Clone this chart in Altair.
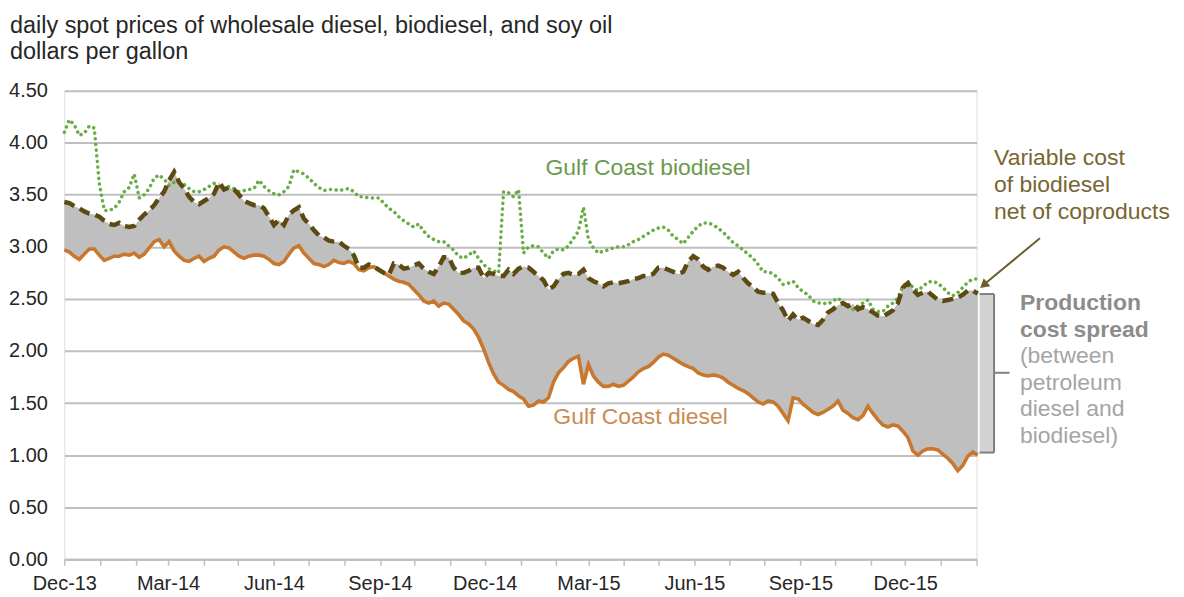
import altair as alt
import pandas as pd

# ---------------- data ----------------
start_date = "2013-12-01"
step = "104h"  # sampling step of the read-off series

diesel = [
    2.97, 2.95, 2.91, 2.88, 2.93, 2.98, 2.98, 2.92, 2.87, 2.89, 2.91, 2.91, 2.93, 2.92, 2.94, 2.90,
    2.93, 2.99, 3.05, 3.07, 3.00, 3.05, 2.96, 2.91, 2.87, 2.86, 2.89, 2.91, 2.86, 2.89, 2.91, 2.97,
    3.00, 2.99, 2.95, 2.91, 2.89, 2.91, 2.92, 2.92, 2.91, 2.88, 2.84, 2.83, 2.86, 2.93, 2.99,
    3.01, 2.94, 2.89, 2.84, 2.83, 2.81, 2.83, 2.87, 2.85, 2.84, 2.86, 2.84, 2.78, 2.77, 2.80, 2.81,
    2.78, 2.75, 2.72, 2.69, 2.67, 2.66, 2.64, 2.59, 2.54, 2.48, 2.46, 2.48, 2.43, 2.46, 2.45, 2.40,
    2.35, 2.29, 2.26, 2.21, 2.13, 2.02, 1.89, 1.78, 1.70, 1.67, 1.63, 1.61, 1.57, 1.54, 1.47,
    1.48, 1.52, 1.51, 1.55, 1.70, 1.79, 1.84, 1.90, 1.93, 1.95, 1.68, 1.87, 1.76, 1.70, 1.66, 1.66,
    1.68, 1.66, 1.67, 1.71, 1.75, 1.80, 1.83, 1.85, 1.89, 1.94, 1.97, 1.96, 1.93, 1.90, 1.87, 1.85,
    1.83, 1.79, 1.77, 1.76, 1.77, 1.76, 1.74, 1.70, 1.67, 1.64, 1.62, 1.59, 1.55, 1.51, 1.49,
    1.52, 1.51, 1.47, 1.40, 1.33, 1.55, 1.54, 1.49, 1.45, 1.41, 1.39, 1.41, 1.44, 1.47, 1.52, 1.43,
    1.40, 1.36, 1.34, 1.38, 1.47, 1.40, 1.34, 1.29, 1.27, 1.29, 1.28, 1.23, 1.17, 1.04, 1.00, 1.04,
    1.06, 1.06, 1.05, 1.01, 0.97, 0.92, 0.85, 0.90, 0.99, 1.03, 1.00,
]

varcost = [
    3.43, 3.42, 3.39, 3.37, 3.34, 3.32, 3.31, 3.29, 3.25, 3.22, 3.21, 3.23, 3.20, 3.19, 3.20, 3.26,
    3.31, 3.35, 3.40, 3.47, 3.53, 3.64, 3.72, 3.62, 3.56, 3.48, 3.43, 3.41, 3.44, 3.47, 3.51, 3.62,
    3.55, 3.57, 3.55, 3.50, 3.44, 3.42, 3.40, 3.40, 3.37, 3.29, 3.21, 3.26, 3.21, 3.31, 3.35,
    3.38, 3.27, 3.22, 3.16, 3.11, 3.09, 3.06, 3.05, 3.05, 3.01, 2.98, 2.92, 2.80, 2.80, 2.83, 2.81,
    2.78, 2.75, 2.73, 2.84, 2.83, 2.79, 2.80, 2.82, 2.84, 2.79, 2.76, 2.74, 2.81, 2.90, 2.90, 2.80,
    2.75, 2.75, 2.77, 2.80, 2.80, 2.70, 2.75, 2.74, 2.72, 2.72, 2.78, 2.74, 2.79, 2.81, 2.80,
    2.76, 2.72, 2.68, 2.59, 2.62, 2.69, 2.74, 2.75, 2.73, 2.74, 2.78, 2.70, 2.67, 2.65, 2.62, 2.65,
    2.66, 2.65, 2.66, 2.67, 2.69, 2.70, 2.72, 2.72, 2.74, 2.80, 2.80, 2.78, 2.76, 2.74, 2.76, 2.86,
    2.91, 2.88, 2.81, 2.78, 2.81, 2.82, 2.80, 2.76, 2.73, 2.76, 2.70, 2.65, 2.61, 2.57, 2.56,
    2.56, 2.55, 2.46, 2.39, 2.29, 2.35, 2.30, 2.32, 2.29, 2.26, 2.25, 2.30, 2.37, 2.40, 2.44, 2.46,
    2.43, 2.45, 2.40, 2.42, 2.40, 2.37, 2.34, 2.33, 2.36, 2.39, 2.46, 2.61, 2.65, 2.59, 2.54, 2.56,
    2.57, 2.53, 2.49, 2.48, 2.49, 2.50, 2.51, 2.54, 2.58, 2.58, 2.55,
]

biodiesel = [
    4.10, 4.22, 4.17, 4.07, 4.09, 4.16, 4.14, 3.61, 3.35, 3.35, 3.37, 3.43, 3.53, 3.57, 3.70, 3.47,
    3.50, 3.56, 3.66, 3.69, 3.65, 3.59, 3.62, 3.62, 3.60, 3.56, 3.53, 3.53, 3.55, 3.58, 3.61, 3.56,
    3.56, 3.58, 3.56, 3.53, 3.54, 3.55, 3.56, 3.64, 3.58, 3.54, 3.51, 3.50, 3.53, 3.58, 3.74,
    3.72, 3.70, 3.66, 3.61, 3.57, 3.54, 3.55, 3.55, 3.54, 3.55, 3.56, 3.53, 3.48, 3.48, 3.47, 3.47,
    3.47, 3.42, 3.37, 3.34, 3.29, 3.25, 3.22, 3.19, 3.22, 3.15, 3.10, 3.07, 3.05, 3.05, 3.01, 2.97,
    2.91, 2.89, 2.92, 2.96, 2.89, 2.83, 2.79, 2.77, 2.75, 3.53, 3.52, 3.48, 3.55, 2.94, 3.00,
    3.01, 3.00, 2.94, 2.89, 2.96, 2.98, 2.97, 3.01, 3.08, 3.15, 3.38, 3.07, 2.99, 2.94, 2.96, 2.97,
    2.99, 3.00, 3.00, 3.02, 3.05, 3.07, 3.10, 3.13, 3.16, 3.18, 3.19, 3.16, 3.10, 3.07, 3.03, 3.09,
    3.15, 3.20, 3.23, 3.23, 3.21, 3.18, 3.14, 3.09, 3.04, 3.01, 2.97, 2.93, 2.89, 2.83, 2.76,
    2.76, 2.74, 2.70, 2.64, 2.65, 2.67, 2.61, 2.57, 2.54, 2.48, 2.46, 2.46, 2.45, 2.48, 2.51, 2.46,
    2.43, 2.40, 2.43, 2.46, 2.49, 2.40, 2.38, 2.38, 2.43, 2.46, 2.51, 2.62, 2.67, 2.61, 2.58, 2.62,
    2.66, 2.67, 2.65, 2.61, 2.56, 2.53, 2.56, 2.61, 2.66, 2.69, 2.69,
]

y_ticks = [0.0, 0.5, 1.0, 1.5, 2.0, 2.5, 3.0, 3.5, 4.0, 4.5]

title_lines = ["daily spot prices of wholesale diesel, biodiesel, and soy oil", "dollars per gallon"]
bio_label = "Gulf Coast biodiesel"
diesel_label = "Gulf Coast diesel"
varcost_label = ["Variable cost", "of biodiesel", "net of coproducts"]
spread_bold = ["Production", "cost spread"]
spread_note = ["(between", "petroleum", "diesel and", "biodiesel)"]

# ---------------- chart ----------------
FONT = "Liberation Sans"
dates = pd.date_range(start_date, periods=len(diesel), freq=step)
df = pd.DataFrame({"date": dates, "diesel": diesel, "varcost": varcost, "biodiesel": biodiesel})
one = pd.DataFrame({"a": [0]})

x_enc = alt.X(
    "date:T",
    title=None,
    scale=alt.Scale(domain=[alt.DateTime(year=2013, month=12, date=1),
                            alt.DateTime(year=2016, month=2, date=1)]),
    axis=alt.Axis(
        tickCount=alt.TimeIntervalStep(interval="month", step=1),
        labelExpr="month(datum.value) % 3 == 2 ? timeFormat(datum.value, '%b-%y') : ''",
        labelFlush=False, labelOverlap=False, grid=False,
        domainColor="#bfbfbf", domainWidth=2,
        tickColor="#bfbfbf", tickWidth=1.5, tickSize=6,
        labelPadding=8, labelFontSize=20, labelColor="#262626", labelFont=FONT,
    ),
)


def y_enc(field):
    return alt.Y(
        f"{field}:Q",
        title=None,
        scale=alt.Scale(domain=[0, 4.5], nice=False, zero=False),
        axis=alt.Axis(
            values=y_ticks, format=".2f", grid=True, gridColor="#bfbfbf", gridWidth=2,
            domain=False, ticks=False, labelPadding=17, labelFontSize=20,
            labelColor="#262626", labelFont=FONT,
        ),
    )


base = alt.Chart(df)
area = base.mark_area(color="#bfbfbf", opacity=1).encode(x=x_enc, y=y_enc("diesel"), y2="varcost:Q")
diesel_line = base.mark_line(color="#c8782e", strokeWidth=3.6).encode(x=x_enc, y=y_enc("diesel"))
bio_line = base.mark_line(color="#6aac46", strokeWidth=3.5, strokeDash=[0.1, 5.6], strokeCap="round").encode(
    x=x_enc, y=y_enc("biodiesel"))
var_line = base.mark_line(color="#5c4a12", strokeWidth=4.5, strokeDash=[11, 6]).encode(
    x=x_enc, y=y_enc("varcost"))


def txt(text, x, y, color, size=23, align="left", weight="normal", lh=27):
    return alt.Chart(one).mark_text(
        text=text, align=align, baseline="alphabetic", font=FONT, fontSize=size,
        color=color, fontWeight=weight, lineHeight=lh,
    ).encode(x=alt.value(x), y=alt.value(y))


def rule(x, x2, y, y2, color="#7f7f7f", w=2):
    return alt.Chart(one).mark_rule(color=color, strokeWidth=w).encode(
        x=alt.value(x), x2=alt.value(x2), y=alt.value(y), y2=alt.value(y2))


title_t = txt(title_lines, -54.5, -58.3, "#262626", size=23.5, lh=26.7)
bio_t = txt(bio_label, 585.5, 85, "#6b9a4e", align="center")
diesel_t = txt(diesel_label, 578, 334, "#c98b50", align="center")
var_t = txt(varcost_label, 932.5, 75, "#776633", lh=27)
spread_b = txt(spread_bold, 958.5, 220, "#8c8c8c", weight="bold", lh=26.7)
spread_n = txt(spread_note, 958.5, 273.4, "#a5a5a5", lh=26.7)

bracket_fill = alt.Chart(one).mark_rect(color="#d3d3d3").encode(
    x=alt.value(918), x2=alt.value(932.5), y=alt.value(204), y2=alt.value(363))
br_top = rule(918, 932.5, 204, 204)
br_right = rule(932.5, 932.5, 204, 363)
br_bot = rule(918, 932.5, 363, 363)
br_tick = rule(932.5, 948, 283, 283)

arrow_shaft = rule(978.5, 923, 148, 194, color="#6e5f2a", w=2)
arrow_head = alt.Chart(one).mark_point(
    shape="triangle-up", filled=True, size=110, angle=230, color="#6e5f2a", opacity=1
).encode(x=alt.value(922), y=alt.value(195))

chart = alt.layer(
    area, diesel_line, bio_line, var_line,
    bracket_fill, br_top, br_right, br_bot, br_tick,
    arrow_shaft, arrow_head,
    title_t, bio_t, diesel_t, var_t, spread_b, spread_n,
).properties(
    width=915, height=470,
    autosize=alt.AutoSizeParams(type="none"),
    padding={"left": 56.5, "top": 82, "right": 200, "bottom": 40},
).configure_view(stroke=None).configure(font=FONT)

chart.save("out.html", embed_options={"renderer": "svg", "actions": False})
